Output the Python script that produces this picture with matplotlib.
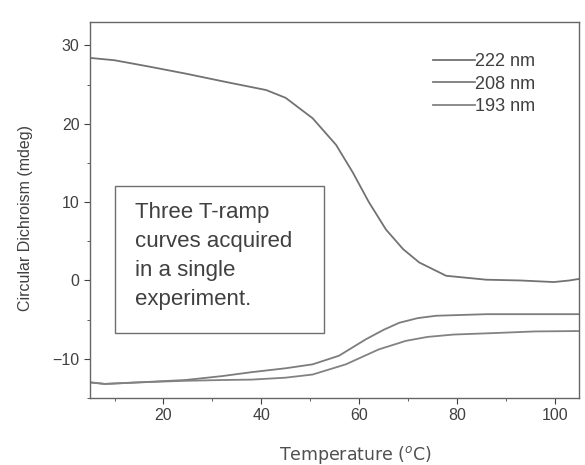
import numpy as np
import matplotlib
matplotlib.use("Agg")
import matplotlib.pyplot as plt
from matplotlib.ticker import MultipleLocator
from matplotlib.patches import Rectangle

plt.rcParams['font.family'] = ['Liberation Sans', 'DejaVu Sans']

# readings
t_222 = [5, 10, 17, 24.5, 33, 41, 45, 50.5, 55.3, 58.7, 62, 65.5, 69, 72.3, 77.8, 86, 93, 99.8, 103, 105]
cd_222 = [28.4, 28.1, 27.3, 26.4, 25.3, 24.3, 23.3, 20.7, 17.3, 13.8, 10.0, 6.5, 4.0, 2.3, 0.6, 0.1, 0.0, -0.2, 0.0, 0.2]

t_208 = [5, 8, 15, 24.5, 32, 38, 45, 50.5, 55.9, 61.4, 65, 68.2, 72, 75.8, 86, 95, 105]
cd_208 = [-13.0, -13.2, -13.0, -12.7, -12.2, -11.7, -11.2, -10.7, -9.6, -7.5, -6.3, -5.4, -4.8, -4.5, -4.3, -4.3, -4.3]

t_193 = [5, 8, 15, 24.5, 32, 38, 45, 50.5, 57.3, 64, 69.6, 74, 79.3, 88, 96, 105]
cd_193 = [-13.0, -13.2, -13.0, -12.8, -12.7, -12.65, -12.4, -12.0, -10.7, -8.8, -7.7, -7.2, -6.9, -6.7, -6.5, -6.45]

labels = ['222 nm', '208 nm', '193 nm']
note = 'Three T-ramp\ncurves acquired\nin a single\nexperiment.'

ink = '#404040'
fig = plt.figure(figsize=(5.85, 4.65), dpi=100)
ax = fig.add_axes([0.154, 0.144, 0.836, 0.809])

ax.plot(t_222, cd_222, color='#727272', lw=1.3, label=labels[0])
ax.plot(t_208, cd_208, color='#7c7c7c', lw=1.3, label=labels[1])
ax.plot(t_193, cd_193, color='#828282', lw=1.3, label=labels[2])

ax.set_xlim(5, 105)
ax.set_ylim(-15, 33)
ax.set_xticks([20, 40, 60, 80, 100])
ax.set_yticks([-10, 0, 10, 20, 30])
ax.xaxis.set_minor_locator(MultipleLocator(10))
ax.yaxis.set_minor_locator(MultipleLocator(5))
ax.tick_params(which='both', direction='out', colors=ink, labelsize=11.5)
ax.tick_params(which='major', length=4)
ax.tick_params(which='minor', length=2)
for s in ax.spines.values():
    s.set_color('#666666')
    s.set_linewidth(1.0)

ax.set_xlabel('Temperature ($^o$C)', fontsize=12.5, color='#505050', family='DejaVu Sans', va='top')
ax.xaxis.set_label_coords(0.542, -0.122)
ax.set_ylabel('Circular Dichroism (mdeg)', fontsize=11.5, color=ink)
ax.yaxis.set_label_coords(-0.117, 0.479)

leg = ax.legend(loc='upper left', bbox_to_anchor=(0.668, 0.96), frameon=False,
                fontsize=13, handlelength=2.3, handletextpad=0.05, labelspacing=0.3)
for txt in leg.get_texts():
    txt.set_color(ink)

ax.add_patch(Rectangle((0.051, 0.173), 0.428, 0.39, transform=ax.transAxes,
                       fc='white', ec='#6e6e6e', lw=1.0, zorder=3))
ax.text(0.092, 0.522, note, transform=ax.transAxes, fontsize=16, color=ink,
        va='top', ha='left', linespacing=1.5, zorder=4)

fig.savefig('out.png', dpi=100)
